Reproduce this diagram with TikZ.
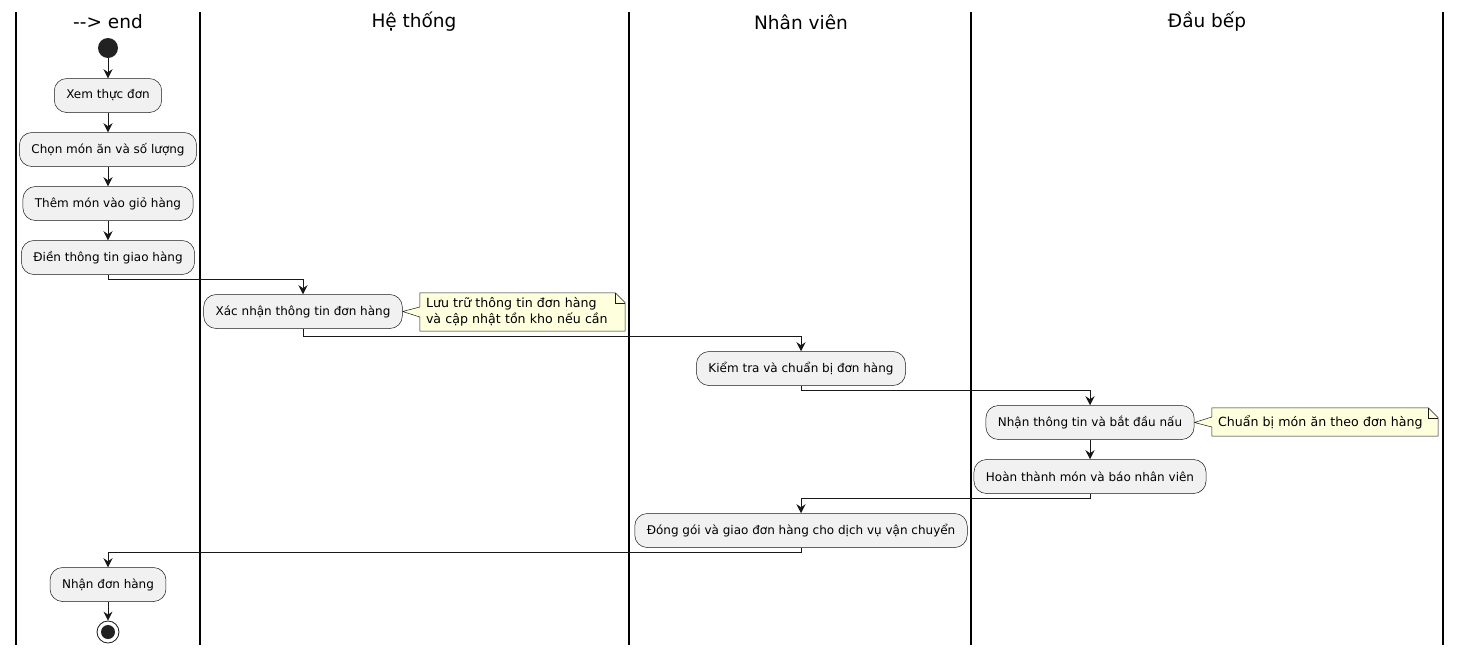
\documentclass[tikz,border=0pt]{standalone}
\usepackage{xcolor}
\usepackage{fontspec}
\setmainfont{DejaVu Sans}
\usepackage{tikz}
\usetikzlibrary{math,arrows.meta,backgrounds}

\definecolor{actfill}{HTML}{F1F1F1}
\definecolor{notefill}{HTML}{FEFFDD}
\definecolor{edge}{HTML}{181818}
\definecolor{dot}{HTML}{222222}

\begin{document}
\begin{tikzpicture}[x=1pt,y=-1pt,
	act/.style={draw=edge,line width=0.5pt,fill=actfill,rounded corners=12.5pt,
		minimum height=34pt,inner xsep=12pt,font=\fontsize{12}{14}\selectfont},
	notetext/.style={inner xsep=6pt,inner ysep=0pt,align=left,anchor=center,
		font=\fontsize{12.6}{16}\selectfont},
	notebox/.style={draw=edge,line width=0.5pt,fill=notefill},
	flow/.style={draw=edge,line width=0.8pt,-{Stealth[length=9pt,width=9pt,inset=3pt]}},
	lane/.style={line width=1.4pt},
	title/.style={font=\fontsize{18.5}{22}\selectfont}]
\useasboundingbox (0,0) rectangle (1462,654);
\tikzmath{
	\la = 108;\lb = 303;\lc = 801;\ld = 1090;
	%
	{\foreach \x in {16,200,629,971,1443} {\draw[lane] (\x,12) -- (\x,645);};};
	{\node[title] (t1) at (\la,22) {-\kern0pt-\kern0pt> end};};
	{\node[title] (t2) at (414,22) {Hệ thống};};
	{\node[title] (t3) at (\lc,22) {Nhân viên};};
	{\node[title] (t4) at (1207,22) {Đầu bếp};};
	%
	{\node[circle,fill=dot,minimum size=20pt,inner sep=0pt] (s) at (\la,48) {};};
	{\node[act] (a1) at (\la,95.5) {Xem thực đơn};};
	{\node[act] (a2) at (\la,149.5) {Chọn món ăn và số lượng};};
	{\node[act] (a3) at (\la,203.5) {Thêm món vào giỏ hàng};};
	{\node[act] (a4) at (\la,257.5) {Điền thông tin giao hàng};};
	{\node[act] (a5) at (\lb,311.5) {Xác nhận thông tin đơn hàng};};
	{\node[act] (a6) at (\lc,368.5) {Kiểm tra và chuẩn bị đơn hàng};};
	{\node[act] (a7) at (\ld,422.5) {Nhận thông tin và bắt đầu nấu};};
	{\node[act] (a8) at (\ld,476.5) {Hoàn thành món và báo nhân viên};};
	{\node[act] (a9) at (\lc,530.5) {Đóng gói và giao đơn hàng cho dịch vụ vận chuyển};};
	{\node[act] (a10) at (\la,584.5) {Nhận đơn hàng};};
	{\node[circle,draw=edge,line width=0.8pt,minimum size=22pt,inner sep=0pt] (e) at (\la,632) {};};
	{\fill[dot] (e) circle (7pt);};
	%
	{\node[notetext,text width=193pt,minimum height=38pt] (n1) at (522.5,312) {Lưu trữ thông tin đơn hàng\\và cập nhật tồn kho nếu cần};};
	{\node[notetext,text width=214pt,minimum height=28pt] (n2) at (1325,422) {Chuẩn bị món ăn theo đơn hàng};};
	{\begin{scope}[on background layer]
	\draw[notebox] (n1.north west) -- ([xshift=-10pt]n1.north east) -- ([yshift=-10pt]n1.north east)
		-- (n1.south east) -- (n1.south west) -- ([yshift=-5pt]n1.west) -- (a5.east)
		-- ([yshift=5pt]n1.west) -- cycle;
	\draw[edge,line width=0.5pt] ([xshift=-10pt]n1.north east) -- ([xshift=-10pt,yshift=-10pt]n1.north east) -- ([yshift=-10pt]n1.north east);
	\draw[notebox] (n2.north west) -- ([xshift=-10pt]n2.north east) -- ([yshift=-10pt]n2.north east)
		-- (n2.south east) -- (n2.south west) -- ([yshift=-5pt]n2.west) -- (a7.east)
		-- ([yshift=5pt]n2.west) -- cycle;
	\draw[edge,line width=0.5pt] ([xshift=-10pt]n2.north east) -- ([xshift=-10pt,yshift=-10pt]n2.north east) -- ([yshift=-10pt]n2.north east);
	\end{scope}};
	%
	{\draw[flow] (s) -- (a1);};
	{\draw[flow] (a1) -- (a2);};
	{\draw[flow] (a2) -- (a3);};
	{\draw[flow] (a3) -- (a4);};
	{\draw[flow] (a4.south) -- ++(0,5) -| (a5.north);};
	{\draw[flow] (a5.south) -- ++(0,8) -| (a6.north);};
	{\draw[flow] (a6.south) -- ++(0,5) -| (a7.north);};
	{\draw[flow] (a7) -- (a8);};
	{\draw[flow] (a8.south) -- ++(0,5) -| (a9.north);};
	{\draw[flow] (a9.south) -- ++(0,5) -| (a10.north);};
	{\draw[flow] (a10) -- (e);};
};
\end{tikzpicture}
\end{document}
